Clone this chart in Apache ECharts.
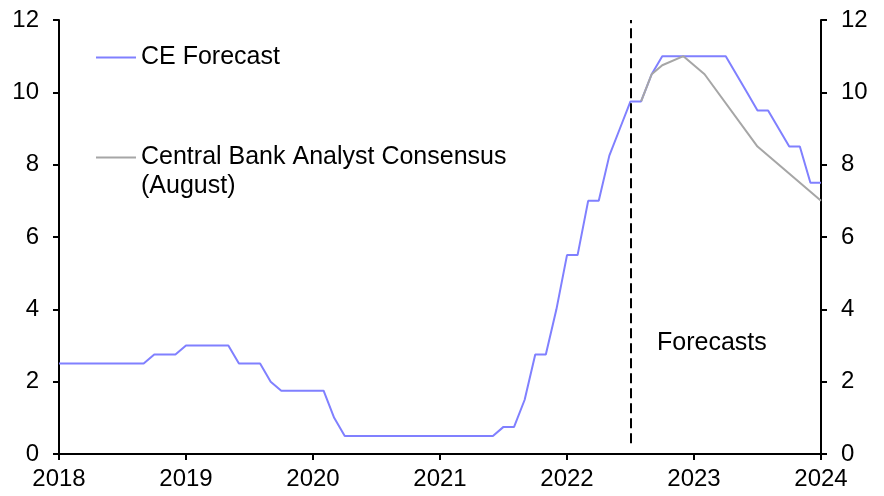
<!DOCTYPE html>
<html>
<head>
<meta charset="utf-8">
<script src="https://cdn.jsdelivr.net/npm/echarts@6/dist/echarts.min.js"></script>
<style>html,body{margin:0;padding:0;background:#fff}#c{width:884px;height:496px}</style>
</head>
<body>
<div id="c"></div>
<script>
// Monthly categories Jan 2018 .. Jan 2024
var startYear = 2018, endYear = 2024;
var months = [];
for (var y = startYear; y <= endYear; y++) {
  for (var m = 1; m <= 12; m++) {
    if (y === endYear && m > 1) break;
    months.push(y + '-' + (m < 10 ? '0' + m : m));
  }
}
var yTicks = [0, 2, 4, 6, 8, 10, 12];
var forecastDate = '2022-07';
var forecastLabel = 'Forecasts';

// CE Forecast (policy rate, %), one value per month
var ceForecast = [
  2.5, 2.5, 2.5, 2.5, 2.5, 2.5, 2.5, 2.5, 2.5, 2.75, 2.75, 2.75,   // 2018
  3.0, 3.0, 3.0, 3.0, 3.0, 2.5, 2.5, 2.5, 2.0, 1.75, 1.75, 1.75,   // 2019
  1.75, 1.75, 1.0, 0.5, 0.5, 0.5, 0.5, 0.5, 0.5, 0.5, 0.5, 0.5,    // 2020
  0.5, 0.5, 0.5, 0.5, 0.5, 0.5, 0.75, 0.75, 1.5, 2.75, 2.75, 4.0,  // 2021
  5.5, 5.5, 7.0, 7.0, 8.25, 9.0, 9.75, 9.75, 10.5, 11.0, 11.0, 11.0, // 2022
  11.0, 11.0, 11.0, 11.0, 10.5, 10.0, 9.5, 9.5, 9.0, 8.5, 8.5, 7.5,  // 2023
  7.5                                                                 // Jan 2024
];

// Central Bank Analyst Consensus (August) - sparse points
var consensusDates = ['2022-08', '2022-09', '2022-10', '2022-12', '2023-02', '2023-07', '2024-01'];
var consensusValues = [9.75, 10.5, 10.75, 11.0, 10.5, 8.5, 7.0];

var consensus = months.map(function (d) {
  var i = consensusDates.indexOf(d);
  return i >= 0 ? consensusValues[i] : null;
});

var FONT = '"Liberation Sans", Arial, sans-serif';
var BLUE = '#8080FF', GREY = '#A6A6A6';

var chart = echarts.init(document.getElementById('c'), null, {renderer: 'canvas'});

function yAxis(pos) {
  return {
    type: 'value', position: pos, min: 0, max: 12, interval: 2,
    axisLine: {show: true, lineStyle: {color: '#000', width: 2}},
    axisTick: {show: true, length: 6, lineStyle: {color: '#000', width: 2}},
    axisLabel: {color: '#000', fontSize: 24, fontFamily: FONT, margin: 20},
    splitLine: {show: false}
  };
}

chart.setOption({
  animation: false,
  backgroundColor: '#fff',
  grid: {left: 59, right: 63, top: 20, bottom: 42, containLabel: false},
  legend: [
    {
      data: [{name: 'CE Forecast', icon: 'rect', itemStyle: {color: BLUE}}],
      left: 96, top: 45, padding: 0, itemWidth: 40, itemHeight: 2, itemGap: 0,
      selectedMode: false,
      textStyle: {color: '#000', fontSize: 25, fontFamily: FONT}
    },
    {
      data: [{name: 'Central Bank Analyst Consensus', icon: 'rect', itemStyle: {color: GREY}}],
      left: 96, top: 114, padding: 0, itemWidth: 40, itemHeight: 2, itemGap: 0,
      selectedMode: false,
      formatter: function (n) { return ' \n' + n + '\n(August)'; },
      textStyle: {color: '#000', fontSize: 25, fontFamily: FONT, lineHeight: 29}
    }
  ],
  xAxis: {
    type: 'category', data: months, boundaryGap: false,
    axisLine: {show: true, lineStyle: {color: '#000', width: 2}},
    axisTick: {show: true, interval: 11, length: 6, lineStyle: {color: '#000', width: 2}},
    axisLabel: {
      interval: 11, color: '#000', fontSize: 24, fontFamily: FONT, margin: 13,
      formatter: function (v) { return v.slice(0, 4); }
    },
    splitLine: {show: false}
  },
  yAxis: [yAxis('left'), yAxis('right')],
  series: [
    {
      name: 'CE Forecast', type: 'line', data: ceForecast, yAxisIndex: 0,
      showSymbol: false, symbol: 'none', z: 2,
      lineStyle: {color: BLUE, width: 2}, itemStyle: {color: BLUE},
      markLine: {
        silent: true, symbol: 'none',
        label: {show: false},
        lineStyle: {color: '#000', width: 2, type: [10, 5]},
        data: [[{coord: [forecastDate, 0.3]}, {coord: [forecastDate, 12]}]]
      }
    },
    {
      name: 'Central Bank Analyst Consensus', type: 'line', data: consensus, yAxisIndex: 0,
      connectNulls: true, showSymbol: false, symbol: 'none', z: 3,
      lineStyle: {color: GREY, width: 2}, itemStyle: {color: GREY}
    }
  ],
  graphic: [
    {
      type: 'text', x: 657, y: 343, silent: true,
      style: {text: forecastLabel, fill: '#000', fontSize: 25, fontFamily: FONT, verticalAlign: 'middle'}
    }
  ]
});
</script>
</body>
</html>
